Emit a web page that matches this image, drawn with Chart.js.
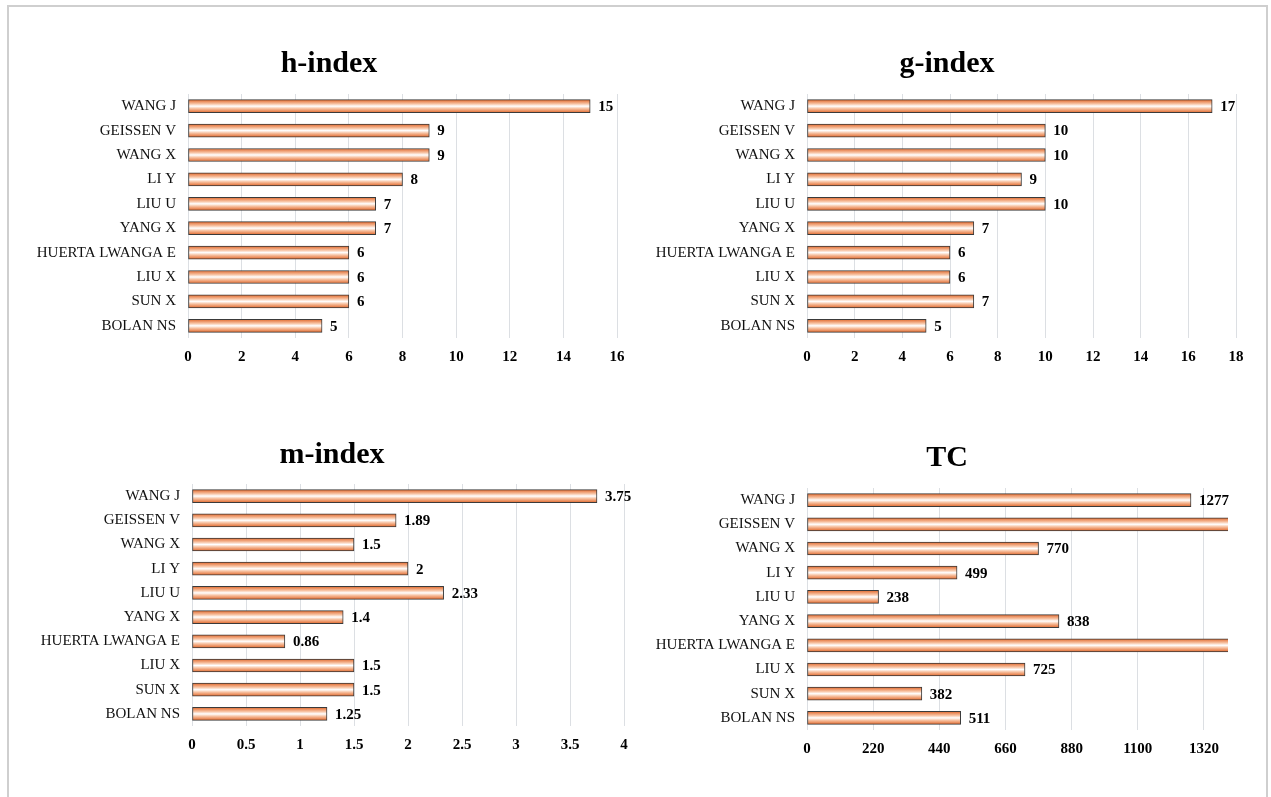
<!DOCTYPE html>
<html>
<head>
<meta charset="utf-8">
<title>Author impact indicators</title>
<script src="https://cdn.jsdelivr.net/npm/chart.js@4.4.1/dist/chart.umd.min.js"></script>
<style>
  html, body { margin: 0; padding: 0; background: #fff; }
  body { width: 1271px; height: 797px; overflow: hidden; position: relative; }
  .frame { position: absolute; left: 7px; top: 5px; width: 1261px; height: 840px; border: 2px solid #cfcfcf; box-sizing: border-box; }
  canvas { position: absolute; }
</style>
</head>
<body>
<div class="frame"></div>
<canvas id="hChart"></canvas>
<canvas id="gChart"></canvas>
<canvas id="mChart"></canvas>
<canvas id="tcChart"></canvas>
<script>
// Authors, top to bottom
const authors = ['WANG J', 'GEISSEN V', 'WANG X', 'LI Y', 'LIU U', 'YANG X', 'HUERTA LWANGA E', 'LIU X', 'SUN X', 'BOLAN NS'];

// Indicator values per author
const hIndex = [15, 9, 9, 8, 7, 7, 6, 6, 6, 5];
const gIndex = [17, 10, 10, 9, 10, 7, 6, 6, 7, 5];
const mIndex = [3.75, 1.89, 1.5, 2, 2.33, 1.4, 0.86, 1.5, 1.5, 1.25];
// GEISSEN V and HUERTA LWANGA E run past the end of the TC axis
const totalCitations = [1277, 1600, 770, 499, 238, 838, 1700, 725, 382, 511];

// Axis tick values
const hTicks = [0, 2, 4, 6, 8, 10, 12, 14, 16];
const gTicks = [0, 2, 4, 6, 8, 10, 12, 14, 16, 18];
const mTicks = [0, 0.5, 1, 1.5, 2, 2.5, 3, 3.5, 4];
const tcTicks = [0, 220, 440, 660, 880, 1100, 1320];

const SERIF = '"Liberation Serif", "Times New Roman", serif';

// Striped orange fill: dark at the edges of each bar, white along its middle
function barFill(ctx) {
  const chart = ctx.chart;
  const yScale = chart.scales && chart.scales.y;
  if (!yScale || ctx.dataIndex === undefined) return '#f4b183';
  const cy = yScale.getPixelForValue(ctx.dataIndex);
  if (!isFinite(cy)) return '#f4b183';
  const g = chart.ctx.createLinearGradient(0, cy - 6, 0, cy + 6);
  g.addColorStop(0, '#e4733a');
  g.addColorStop(0.3, '#f7c2a2');
  g.addColorStop(0.5, '#ffffff');
  g.addColorStop(0.7, '#f7c2a2');
  g.addColorStop(1, '#e4733a');
  return g;
}

// Value labels drawn just past the end of each bar
const valueLabels = {
  id: 'valueLabels',
  afterDatasetsDraw(chart) {
    const ctx = chart.ctx;
    const xScale = chart.scales.x;
    const meta = chart.getDatasetMeta(0);
    const values = chart.data.datasets[0].data;
    ctx.save();
    ctx.font = 'bold 15px ' + SERIF;
    ctx.fillStyle = '#000';
    ctx.textAlign = 'left';
    ctx.textBaseline = 'middle';
    meta.data.forEach((bar, i) => {
      if (values[i] > xScale.max) return;
      ctx.fillText(String(values[i]), bar.x + 8, bar.y + 1);
    });
    ctx.restore();
  }
};

function makeChart(id, box, title, values, ticks, axisMax) {
  const canvas = document.getElementById(id);
  canvas.width = box.w;
  canvas.height = box.h;
  canvas.style.left = box.x + 'px';
  canvas.style.top = box.y + 'px';
  canvas.style.width = box.w + 'px';
  canvas.style.height = box.h + 'px';

  return new Chart(canvas, {
    type: 'bar',
    data: {
      labels: authors,
      datasets: [{
        data: values,
        backgroundColor: barFill,
        borderColor: '#3a3a3a',
        borderWidth: 1,
        borderSkipped: false,
        barThickness: 13,
        clip: 0
      }]
    },
    options: {
      indexAxis: 'y',
      responsive: false,
      animation: false,
      devicePixelRatio: 1,
      layout: { padding: { left: box.padL, right: box.padR, top: 0, bottom: 0 } },
      plugins: {
        legend: { display: false },
        tooltip: { enabled: false },
        title: {
          display: true,
          text: title,
          color: '#000',
          font: { family: SERIF, size: 30, weight: 'bold', lineHeight: 1.2 },
          padding: { top: 0, bottom: box.titleGap }
        }
      },
      scales: {
        x: {
          type: 'linear',
          min: 0,
          max: axisMax,
          afterBuildTicks(scale) { scale.ticks = ticks.map(v => ({ value: v })); },
          afterFit(scale) { scale.height = 30; },
          grid: { color: '#dcdfe3', lineWidth: 1, drawTicks: false },
          border: { display: false },
          ticks: {
            padding: 10,
            color: '#000',
            font: { family: SERIF, size: 15, weight: 'bold' },
            callback: v => String(v)
          }
        },
        y: {
          afterFit(scale) { scale.width = box.axisW; },
          grid: { display: false, drawTicks: false },
          border: { display: false },
          ticks: {
            padding: 12,
            color: '#111',
            font: { family: SERIF, size: 15 }
          }
        },
        // empty right-hand gutter between the plot and the panel edge
        gutter: {
          type: 'category',
          axis: 'y',
          position: 'right',
          afterFit(scale) { scale.width = box.gutterW; },
          grid: { display: false, drawTicks: false },
          border: { display: false },
          ticks: { display: false }
        }
      }
    },
    plugins: [valueLabels]
  });
}

makeChart('hChart',  { x: 0,   y: 46,  w: 640, h: 322, padL: 20, padR: 2,  axisW: 168, gutterW: 21, titleGap: 12 }, 'h-index', hIndex, hTicks, 16);
makeChart('gChart',  { x: 640, y: 46,  w: 621, h: 322, padL: 6,  padR: 13, axisW: 161, gutterW: 12, titleGap: 12 }, 'g-index', gIndex, gTicks, 18);
makeChart('mChart',  { x: 0,   y: 437, w: 646, h: 319, padL: 20, padR: 2,  axisW: 172, gutterW: 20, titleGap: 11 }, 'm-index', mIndex, mTicks, 4);
makeChart('tcChart', { x: 640, y: 440, w: 618, h: 320, padL: 4,  padR: 8,  axisW: 163, gutterW: 22, titleGap: 12 }, 'TC', totalCitations, tcTicks, 1400);
</script>
</body>
</html>
